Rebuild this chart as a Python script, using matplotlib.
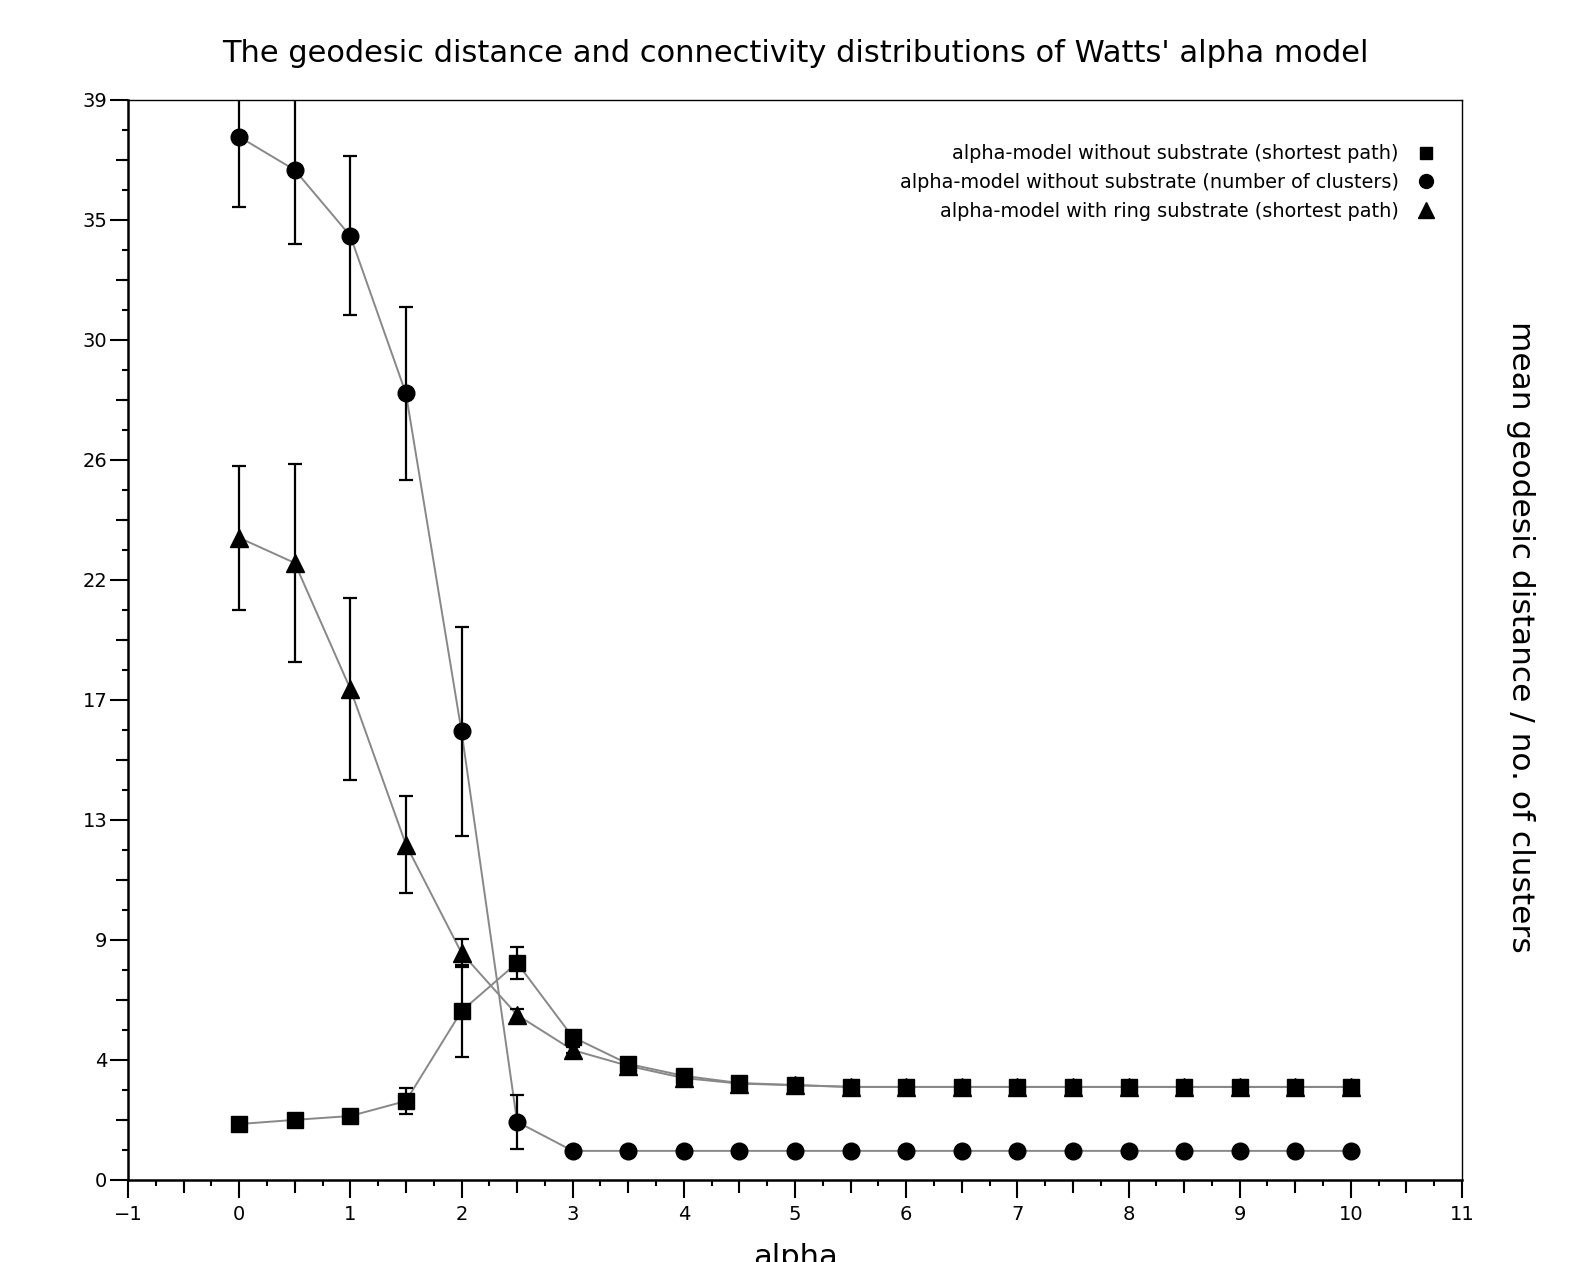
import numpy as np
import matplotlib
matplotlib.use("Agg")
import matplotlib.pyplot as plt
from matplotlib.lines import Line2D

alpha = [0, 0.5, 1, 1.5, 2, 2.5, 3, 3.5, 4, 4.5, 5,
         5.5, 6, 6.5, 7, 7.5, 8, 8.5, 9, 9.5, 10]

# alpha-model without substrate (shortest path)
path_free = [2.02, 2.17, 2.31, 2.85, 6.1, 7.84, 5.16, 4.19, 3.76, 3.5, 3.43,
             3.36, 3.36, 3.36, 3.36, 3.36, 3.36, 3.36, 3.36, 3.36, 3.36]
path_free_err = [0.05, 0.05, 0.05, 0.47, 1.66, 0.58, 0.1, 0.05, 0.05, 0.03, 0.02,
                 0, 0, 0, 0, 0, 0, 0, 0, 0, 0]

# alpha-model without substrate (number of clusters)
clusters = [37.67, 36.47, 34.09, 28.4, 16.2, 2.1, 1.05, 1.05, 1.05, 1.05, 1.05,
            1.05, 1.05, 1.05, 1.05, 1.05, 1.05, 1.05, 1.05, 1.05, 1.05]
clusters_err = [2.53, 2.67, 2.87, 3.12, 3.78, 0.97, 0, 0, 0, 0, 0,
                0, 0, 0, 0, 0, 0, 0, 0, 0, 0]

# alpha-model with ring substrate (shortest path)
path_ring = [23.19, 22.28, 17.73, 12.11, 8.2, 5.96, 4.69, 4.12, 3.68, 3.48, 3.42,
             3.36, 3.36, 3.36, 3.36, 3.36, 3.36, 3.36, 3.36, 3.36, 3.36]
path_ring_err = [2.6, 3.57, 3.28, 1.76, 0.5, 0.2, 0.1, 0.05, 0.05, 0.03, 0.02,
                 0, 0, 0, 0, 0, 0, 0, 0, 0, 0]

labels = ["alpha-model without substrate (shortest path)",
          "alpha-model without substrate (number of clusters)",
          "alpha-model with ring substrate (shortest path)"]

YMAX = 39
ystep = YMAX / 9.0

fig = plt.figure(figsize=(15.69, 12.62), dpi=100)
ax = fig.add_axes([0.0816, 0.065, 0.8502, 0.8558])

series = [(path_free, path_free_err, "s", 11, 8.5),
          (clusters, clusters_err, "o", 12, 10),
          (path_ring, path_ring_err, "^", 13, 11.5)]

for vals, errs, mk, ms, _ in series:
    ax.plot(alpha, vals, color="#888888", lw=1.4, zorder=2)
    ax.errorbar(alpha, vals, yerr=errs, fmt="none", ecolor="black",
                elinewidth=1.6, capsize=5, capthick=1.6, zorder=3)
    ax.plot(alpha, vals, ls="none", marker=mk, ms=ms, color="black", zorder=4)

ax.set_xlim(-1, 11)
ax.set_ylim(0, YMAX)

# ticks: labelled majors, half steps medium, quarter steps short
ax.set_xticks(np.arange(-1, 12, 1))
ax.set_xticks(np.arange(-1, 11.01, 0.25), minor=True)
yt = [k * ystep for k in range(10)]
ax.set_yticks(yt)
ax.set_yticklabels([str(int(round(v))) for v in yt])
ax.set_yticks([k * ystep / 4 for k in range(37)], minor=True)
ax.tick_params(which="major", length=13, width=1.5, labelsize=14)
ax.tick_params(axis="x", which="major", pad=5)
ax.tick_params(axis="y", which="major", pad=2)
ax.tick_params(which="minor", length=4.5, width=1.5)

sx = ax.secondary_xaxis("bottom")
sx.set_xticks(np.arange(-0.5, 11, 1))
sx.tick_params(length=9, width=1.5, labelbottom=False)
sy = ax.secondary_yaxis("left")
sy.set_yticks([(k + 0.5) * ystep for k in range(9)])
sy.tick_params(length=9, width=1.5, labelleft=False)
for s in (sx, sy):
    for sp in s.spines.values():
        sp.set_visible(False)

for side in ("left", "bottom"):
    ax.spines[side].set_linewidth(1.8)
for side in ("top", "right"):
    ax.spines[side].set_linewidth(1.0)

ax.set_title("The geodesic distance and connectivity distributions of Watts' alpha model",
             fontsize=22, pad=27)
ax.set_xlabel("alpha", fontsize=22, labelpad=14)
fig.text(0.969, 0.495, "mean geodesic distance / no. of clusters", fontsize=22.5,
         rotation=-90, ha="center", va="center")

handles = [Line2D([], [], ls="none", marker=m, ms=ls, color="black")
           for _, _, m, _, ls in series]
ax.legend(handles, labels, loc="upper right", bbox_to_anchor=(0.993, 0.975),
          frameon=False, markerfirst=False, fontsize=13.9, labelspacing=0.51,
          handlelength=1.0, handletextpad=0.9)

fig.savefig("out.png", dpi=100)
